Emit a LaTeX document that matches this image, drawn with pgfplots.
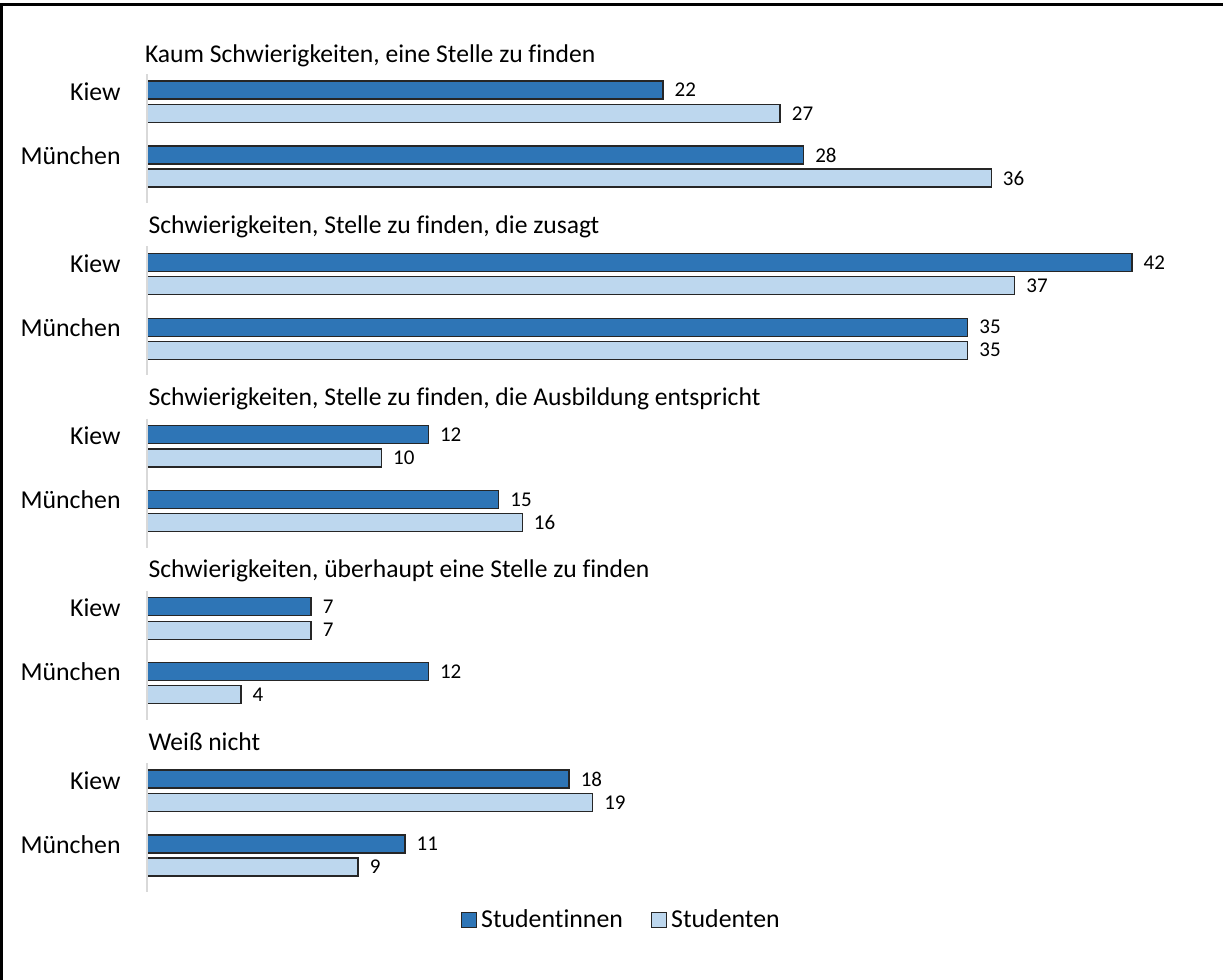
\documentclass[border=0pt]{standalone}
\usepackage{fontspec}
\setmainfont{Carlito}[Ligatures=NoCommon]
\usepackage{pgfplots}
\pgfplotsset{compat=1.18}
\definecolor{dblue}{HTML}{2E75B6}
\definecolor{lblue}{HTML}{BDD7EE}
\definecolor{axgray}{HTML}{D9D9D9}
\begin{document}
\begin{tikzpicture}
\begin{axis}[
  at={(0,0)}, anchor=south west,
  width=611.5pt, height=490pt, scale only axis,
  xmin=-6.2687, xmax=45.885,
  ymin=0, ymax=980, y dir=reverse,
  hide axis, clip=false,
  xbar, bar width=9pt, bar shift=0pt,
  /pgf/number format/assume math mode=true,
  nodes near coords,
  every node near coord/.append style={font=\fontsize{10.5}{12}\selectfont, anchor=west, inner sep=0pt, xshift=5.5pt, text=black},
  legend columns=2,
  legend style={at={(axis cs:20.27,920)}, anchor=center, draw=none, fill=none,
    font=\fontsize{12.9}{14}\selectfont, column sep=0pt, inner sep=0pt,
    /tikz/every even column/.append style={column sep=12pt}},
  legend image code/.code={\draw[#1, line width=0.6pt] (0pt,-3.75pt) rectangle (7.5pt,3.75pt);},
]
\coordinate (BL) at (rel axis cs:0,0);
\coordinate (TR) at (rel axis cs:1,1);
\addplot[fill=dblue, draw=black!85, line width=0.7pt] coordinates {
 (22,90) (28,155) (42,262.25) (35,327.25) (12,434.5) (15,499.5) (7,606.75) (12,671.75) (18,779) (11,844)};
\addlegendentry{Studentinnen}
\addplot[fill=lblue, draw=black!85, line width=0.7pt] coordinates {
 (27,113.5) (36,178) (37,285.75) (35,350.25) (10,458) (16,522.5) (7,630.25) (4,694.75) (19,802.5) (9,867)};
\addlegendentry{Studenten}
% group axis lines and category labels
\pgfplotsinvokeforeach{0,172.25,344.5,516.75,689}{
  \draw[axgray, line width=1pt] (axis cs:-0.02,74+#1) -- (axis cs:-0.02,203+#1);
  \node[anchor=base east, inner sep=0pt, font=\fontsize{12.9}{14}\selectfont] at (axis cs:-1.109,100+#1) {Kiew};
  \node[anchor=base east, inner sep=0pt, font=\fontsize{12.9}{14}\selectfont] at (axis cs:-1.109,164+#1) {München};
}
\node[anchor=base west, inner sep=0pt, font=\fontsize{12.8}{14}\selectfont] at (axis cs:-0.1,62) {Kaum Schwierigkeiten, eine Stelle zu finden};
\node[anchor=base west, inner sep=0pt, font=\fontsize{12.8}{14}\selectfont] at (axis cs:0.05,233.25) {Schwierigkeiten, Stelle zu finden, die zusagt};
\node[anchor=base west, inner sep=0pt, font=\fontsize{12.8}{14}\selectfont] at (axis cs:0.05,405.5) {Schwierigkeiten, Stelle zu finden, die Ausbildung entspricht};
\node[anchor=base west, inner sep=0pt, font=\fontsize{12.8}{14}\selectfont] at (axis cs:0.05,577.75) {Schwierigkeiten, überhaupt eine Stelle zu finden};
\node[anchor=base west, inner sep=0pt, font=\fontsize{12.8}{14}\selectfont] at (axis cs:0.05,750) {Weiß nicht};
% frame (left and top edges)
\draw[black, line width=1.5pt] (axis cs:-6.2047,980) -- (axis cs:-6.2047,4) -- (axis cs:45.885,4);
\end{axis}
\pgfresetboundingbox
\useasboundingbox (BL) rectangle (TR);
\end{tikzpicture}
\end{document}
